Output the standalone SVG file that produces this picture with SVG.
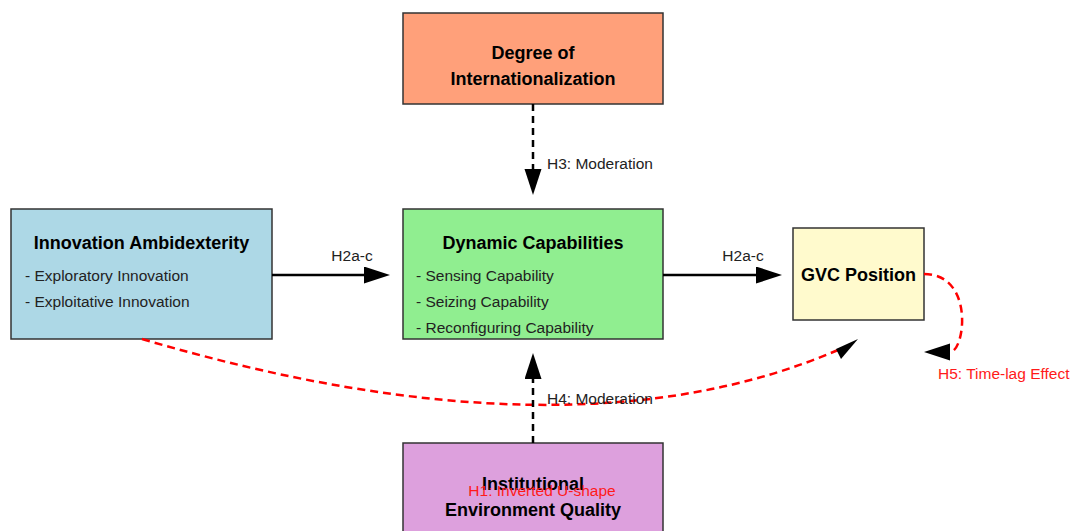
<svg xmlns="http://www.w3.org/2000/svg" width="1073" height="531" viewBox="0 0 1073 531">
<style>
.box{stroke:#333;stroke-width:1.5}
.title{font-family:"Liberation Sans",Arial,sans-serif;font-weight:bold;font-size:18px;fill:#000;text-anchor:middle}
.item{font-family:"Liberation Sans",Arial,sans-serif;font-size:15.5px;fill:#222}
.lbl{font-family:"Liberation Sans",Arial,sans-serif;font-size:15.5px;fill:#222}
.red{fill:#ff1a1a}
.solid{fill:none;stroke:#000;stroke-width:2.5}
.bdash{fill:none;stroke:#000;stroke-width:2.5;stroke-dasharray:7 5}
.rdash{fill:none;stroke:#ff0000;stroke-width:2.5;stroke-dasharray:8 5}
</style>
<defs>
<marker id="ah" markerUnits="userSpaceOnUse" markerWidth="28" markerHeight="20" refX="0" refY="8.5" orient="auto" viewBox="0 0 28 20">
<path d="M0,0 L26,8.5 L0,17 z" fill="#000"/>
</marker>
</defs>
<rect width="1073" height="531" fill="#fff"/>
<g id="node-internationalization">
<rect class="box" x="403" y="13" width="260" height="91" fill="#FFA07A"/>
<text class="title" x="533" y="59">Degree of</text>
<text class="title" x="533" y="85">Internationalization</text>
</g>
<g id="node-ambidexterity">
<rect class="box" x="11" y="209" width="261" height="130" fill="#ADD8E6"/>
<text class="title" x="141.5" y="249">Innovation Ambidexterity</text>
<text class="item" x="25" y="281">- Exploratory Innovation</text>
<text class="item" x="25" y="307">- Exploitative Innovation</text>
</g>
<g id="node-dynamic">
<rect class="box" x="403" y="209" width="260" height="130" fill="#90EE90"/>
<text class="title" x="533" y="249">Dynamic Capabilities</text>
<text class="item" x="416" y="281">- Sensing Capability</text>
<text class="item" x="416" y="307">- Seizing Capability</text>
<text class="item" x="416" y="333">- Reconfiguring Capability</text>
</g>
<g id="node-gvc">
<rect class="box" x="793" y="228" width="131" height="92" fill="#FFFACD"/>
<text class="title" x="858.5" y="281">GVC Position</text>
</g>
<g id="node-institutional">
<rect class="box" x="403" y="443" width="260" height="100" fill="#DDA0DD"/>
<text class="title" x="533" y="490">Institutional</text>
<text class="title" x="533" y="516">Environment Quality</text>
</g>
<g id="connectors">
<path class="bdash" d="M533,104 L533,169" marker-end="url(#ah)"/>
<path class="solid" d="M272,275 L364,275" marker-end="url(#ah)"/>
<path class="solid" d="M663,275 L756,275" marker-end="url(#ah)"/>
<path class="rdash" d="M142,339 Q570,465 838,350"/>
<path class="bdash" d="M533,443 L533,379" marker-end="url(#ah)"/>
<path d="M836,349 L858,339 L841,359 z" fill="#000"/>
<path class="rdash" d="M924,274 C975,274 965,352 950,352" marker-end="url(#ah)"/>
<text class="lbl" x="352" y="261" text-anchor="middle">H2a-c</text>
<text class="lbl" x="743" y="261" text-anchor="middle">H2a-c</text>
<text class="lbl" x="547" y="169">H3: Moderation</text>
<text class="lbl" x="547" y="404">H4: Moderation</text>
<text class="lbl red" x="938" y="379">H5: Time-lag Effect</text>
<text class="lbl red" x="542" y="496" text-anchor="middle">H1: Inverted U-shape</text>
</g>
</svg>
